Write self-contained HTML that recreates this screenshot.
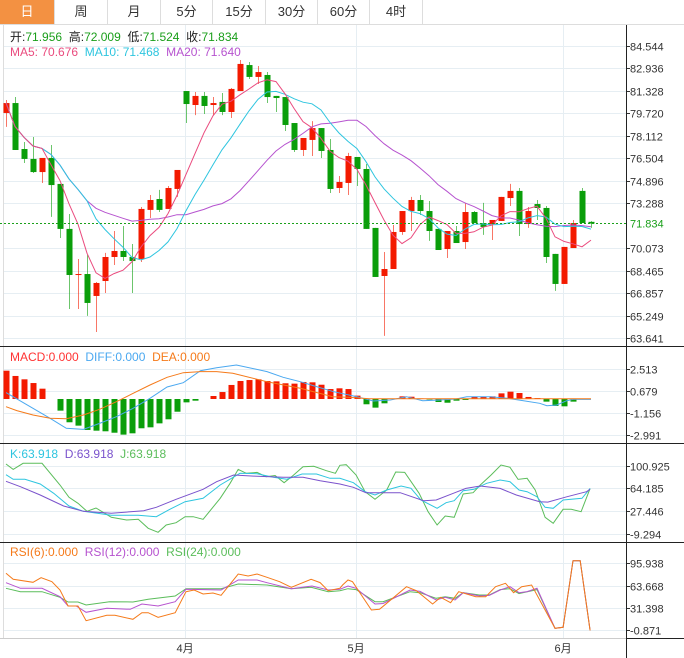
<!DOCTYPE html>
<html><head><meta charset="utf-8">
<style>
html,body{margin:0;padding:0;background:#fff;}
body{width:684px;height:658px;overflow:hidden;position:relative;font-family:"Liberation Sans","Noto Sans CJK SC",sans-serif;}
.tabs{position:absolute;left:0;top:0;width:684px;height:24px;border-bottom:1px solid #ddd;}
.tab{position:absolute;top:0;height:24px;line-height:24px;text-align:center;font-size:13px;color:#333;border-right:1px solid #ddd;box-sizing:border-box;}
.tab.on{background:#f39142;color:#fff;}
svg{position:absolute;left:0;top:0;}
</style></head><body>
<div class="tabs">
<div class="tab on" style="left:0;width:55px">日</div>
<div class="tab" style="left:55px;width:53px">周</div>
<div class="tab" style="left:108px;width:53px">月</div>
<div class="tab" style="left:161px;width:52px">5分</div>
<div class="tab" style="left:213px;width:53px">15分</div>
<div class="tab" style="left:266px;width:52px">30分</div>
<div class="tab" style="left:318px;width:52px">60分</div>
<div class="tab" style="left:370px;width:53px">4时</div>
</div>
<svg id="chart" width="684" height="658"></svg>
<script>
const opens=[79.75,80.46,77.17,76.46,75.52,76.53,74.67,71.45,68.15,68.22,66.65,67.72,69.44,69.87,69.44,69.30,72.81,73.59,72.88,74.31,81.32,80.32,80.97,80.32,80.54,79.82,81.32,83.18,82.33,82.47,80.97,80.89,79.03,77.10,77.82,78.67,77.10,74.38,74.74,76.60,75.74,71.52,68.08,68.58,71.23,72.73,73.52,72.73,71.45,70.01,71.30,70.51,72.66,71.87,71.80,72.02,73.66,74.17,71.80,73.23,72.95,69.66,67.51,70.08,74.17,71.956];
const closes=[80.46,77.10,76.46,75.52,76.53,74.59,71.45,68.15,68.22,66.15,67.58,69.44,69.87,69.44,69.15,72.88,73.52,72.81,74.38,75.67,80.39,80.97,80.25,80.46,79.82,81.47,83.26,82.33,82.68,80.89,80.82,78.89,77.10,77.96,78.67,77.03,74.31,74.81,76.67,75.74,71.45,68.01,68.58,71.23,72.73,73.52,72.73,71.30,69.94,71.30,70.44,72.66,71.87,71.59,72.09,73.74,74.17,71.80,72.73,72.95,69.44,67.51,70.16,71.87,71.87,71.834];
const highs=[80.68,80.89,77.67,78.03,76.53,77.46,74.67,72.52,69.30,69.58,67.65,69.73,71.30,71.66,70.37,73.02,73.88,74.24,74.52,75.67,81.32,81.25,81.25,80.89,81.18,81.54,83.54,83.40,83.11,82.68,80.97,80.89,79.03,77.96,79.17,78.67,77.89,75.24,76.89,76.60,76.10,71.52,69.80,71.73,72.73,73.74,73.88,73.45,71.45,71.30,71.66,73.31,72.73,73.31,72.09,73.74,74.67,74.38,73.02,73.52,73.09,69.66,70.16,72.09,74.38,72.009];
const lows=[78.75,77.10,76.17,75.45,74.74,72.31,70.80,65.72,65.72,65.22,64.07,66.86,68.87,69.15,66.86,69.08,72.23,72.66,72.88,73.74,79.03,79.60,79.68,79.60,79.60,79.39,81.32,82.18,81.82,80.46,79.82,78.46,76.96,76.67,76.67,76.53,74.02,74.02,73.88,74.52,71.45,68.01,63.79,68.58,71.02,71.30,72.45,70.59,69.94,69.37,70.44,70.01,71.87,71.02,70.66,72.02,73.09,70.94,71.52,72.09,69.01,67.01,67.51,70.08,71.87,71.524];
const priceTicks=["84.544","82.936","81.328","79.720","78.112","76.504","74.896","73.288","71.680","70.073","68.465","66.857","65.249","63.641"];
const macdBars=[2.36,1.92,1.64,1.33,0.86,0,-0.97,-1.94,-2.22,-2.58,-2.64,-2.69,-2.81,-2.97,-2.86,-2.44,-2.36,-2.03,-1.69,-1.06,-0.28,-0.14,0,0.25,0.58,1.17,1.5,1.58,1.64,1.5,1.47,1.31,1.28,1.42,1.39,1.19,0.83,0.89,0.83,0.28,-0.44,-0.72,-0.36,0.02,0.22,0.19,0.05,-0.05,-0.25,-0.31,-0.14,-0.08,0.19,0.17,0.22,0.47,0.61,0.5,0.17,0.08,-0.22,-0.58,-0.61,-0.22,0.01,0];
const diffIdx=[0,4.9,6.7,8.6,10.4,12.3,14.1,16,17.9,19.7,21.6,23.4,25.6,29,30.8,32.7,34.5,36.4,39,40.8,42.7,44.5,46.3,48.2,50,51.2,53.8,55.7,57.5,59.3,60.1,61.2,62.3,63,65];
const diffVal=[0.53,-1.61,-2.44,-2.53,-2.03,-1.47,-0.78,0.06,1.0,1.36,2.36,2.61,2.83,2.28,1.81,1.44,1.03,0.61,0.19,-0.17,-0.08,0.19,-0.14,-0.08,0,0.19,0.19,0.06,-0.14,-0.36,-0.56,-0.5,-0.14,-0.03,-0.03];
const deaIdx=[0,1.2,3,4.9,6.7,8.6,10.4,12.3,14.1,16,17.9,19.7,21.6,23.4,25.2,29,32.7,36.3,38,40.4,65];
const deaVal=[-0.64,-0.97,-1.33,-1.61,-1.64,-1.33,-0.86,-0.22,0.47,1.17,1.81,2.19,2.28,2.28,2.14,1.44,0.89,0.19,0.14,0.02,0.02];
const macdTicks=["2.513","0.679","-1.156","-2.991"];
const jIdx=[0,0.8,1.9,4,6,7,8,9,10,11.7,13.4,14.7,15.8,16.9,17.8,18.9,19.9,20.8,21.9,23.8,24.9,25.8,26.7,27.9,28.9,29.9,30.9,31.9,33,34.2,35.6,36.6,37.1,37.8,38.9,39.9,41,42.3,43.3,44.3,45.9,46.9,47.9,48.8,49.8,50.8,51.9,52.7,53.9,55,56,56.9,57.9,58.8,59.9,60.8,61.9,62.8,63.9,64.9];
const jVal=[103.7,95,104.8,104.8,69.6,49.7,40,27,32.4,17.3,12.9,14,-0.5,-7,4.8,8.5,18.3,18.3,14,48.1,72.4,95,88.6,90,83.1,85,73.4,85,99.3,99.9,92.8,88.6,101.5,102.5,85.8,58.8,46.4,61.5,90.7,90,56.2,26.4,4.8,19.4,17.3,55.1,57.2,69.6,85.8,102,98.3,78.8,80.5,61.5,17.3,7.6,30.3,30.3,26.4,64.2];
const kIdx=[0,0.8,2.1,3.8,5.3,7,8.6,11.7,14.7,16.7,18.2,19.9,21.9,23.8,26,27.9,29.7,31.2,32.9,34.5,36,37.1,38.6,39.9,41,42.3,43.9,45,46.1,47.9,48.9,49.8,50.8,52,53.4,54.9,56,57,57.9,59,59.9,60.8,61.9,64,64.9];
const kVal=[86.3,78.9,78.9,71.3,56.2,35.6,27,20.5,20.5,18.3,30.3,42.6,48.1,69.6,88.6,88,82.1,79,87.5,87.5,80.5,80.5,73.4,58.8,53.4,61.5,68,64.3,45.3,31.9,41,44.2,60.4,62.7,72.4,77.7,75,61.5,58.8,50.6,33.5,31.9,45.3,48.1,64.2];
const dIdx=[0,1.6,3.8,6.4,8.6,11.7,15.3,16.7,18.9,21.9,23.4,25.3,27.5,30.8,33,34.9,37.1,38.6,40,41.9,43.8,46.4,47.8,49.7,51.1,52.7,54.9,56.7,59.3,60.2,62.3,64.5,64.9];
const dVal=[75.6,66.9,53.4,35.6,27,23.8,28,33.5,46.4,62.7,75,85.8,84,82.1,82.1,76.6,71.3,65.9,57.2,57.2,57.2,44.2,45.3,56.2,64.2,68,64.2,53.4,42.6,42,50.6,58.8,62.7];
const kdjTicks=["100.925","64.185","27.446","-9.294"];
const r6Idx=[0,0.8,3,3.9,5.1,6,6.9,8,8.9,11.2,12.1,14.1,15.1,15.8,16.9,18.8,20,20.9,21.9,23,23.9,25.8,26.9,27.9,29,30.4,31.7,33.9,34.9,35.8,37.1,37.4,38,38.5,40.6,41.5,44.5,45.6,47.4,48.3,49.4,50.3,52.2,53.3,54.4,55.5,56.4,57.3,58.4,61,61.9,63,63.8,64.9];
const r6Val=[81.5,72.8,68.5,75.1,69.4,57.4,34.2,34.2,13,20.8,20.8,15,24.6,24.6,17.9,24.6,54.9,57.4,51.6,53,49.7,80.5,77.6,80.5,75.7,69.4,61.3,72.8,68,56.3,60,64.6,71.8,69.4,28.4,29.4,62.1,56.3,37.1,46.8,39,54.9,47.7,47.7,62.1,67,53.5,62.1,64.6,2,3.4,99.7,99.7,-1];
const r12Idx=[0,1.6,4,6,6.9,7.8,8.9,11.2,13.8,15.1,16.9,18.8,20,23.9,25.8,27.9,29,31.7,34,35.8,37.1,38,38.9,41,41.9,44.9,46,47.8,48.8,49.9,50.8,52.6,53.7,54.9,56,57,57.9,59,61,61.9,63,63.8,64.9];
const r12Val=[67.9,59.8,59.8,47.7,34.2,34.2,25.1,30.9,29.4,37.1,34.2,40.4,58.4,57.4,71.8,71.8,67.9,59.3,63.1,57.4,58.4,63.1,59.8,37.1,37.9,57.4,55.3,42.9,46.8,42.9,53.5,48.7,49.6,57.4,62.1,53.5,55,59.8,2,3.4,99.7,99.7,-1];
const r24Idx=[0,1.6,4,6,6.9,8,8.9,11.5,14.1,15.8,18.8,20,23.9,25.8,29,31.7,33.9,35.8,37.1,38,38.9,41,41.9,44.9,46,47.8,48.8,49.9,50.8,52.6,53.7,54.9,56,57,59,61,61.9,63,63.8,64.9];
const r24Val=[59.8,54.9,54.9,46.8,40,40,35.7,40.4,40,43.9,48.7,59.3,59.3,66,64.6,59.3,61.3,54.9,56.3,59.3,57.9,40.4,40.4,54.9,53.5,45.3,47.7,45.3,53.5,50.2,50.2,57.9,59.3,52.2,57.9,2,3.4,99.7,99.7,-1];
const rsiTicks=["95.938","63.668","31.398","-0.871"];
const months=["4月","5月","6月"];
const monthIdx=[19.9,38.9,61.9];

const NS="http://www.w3.org/2000/svg";
const svg=document.getElementById('chart');
function mk(tag,attrs,parent){const e=document.createElementNS(NS,tag);for(const k in attrs)e.setAttribute(k,attrs[k]);(parent||svg).appendChild(e);return e;}
const xs=i=>6+9*i;
const py=p=>46+(84.544-p)*13.969;
const my=v=>399-v*12;
const ky=v=>465.7+(100.925-v)*0.617;
const ry=v=>563.3+(95.938-v)*0.692;
const RED="#f31a00",GREEN="#0a9e0a",AX=626;

// grids & axes
const g=mk('g',{});


function gridAndTicks(ticks,scale,name){
  ticks.forEach(t=>{const y=Math.round(scale(parseFloat(t)))+0.5;
    mk('line',{x1:3,x2:AX,y1:y,y2:y,stroke:'#e6eef3','stroke-width':1},g);
    mk('line',{x1:AX,x2:AX+4,y1:y,y2:y,stroke:'#333','stroke-width':1},g);
    const tx=mk('text',{x:AX+4,y:y+4,'font-size':11,fill:'#333'});
    tx.textContent=t;
    
    
  });
}
monthIdx.forEach(mi=>{const x=Math.round(xs(mi))+0.5;mk('line',{x1:x,x2:x,y1:25,y2:638,stroke:'#e6eef3'},g);});
gridAndTicks(priceTicks.filter(t=>t!=="71.680"),py,'price');
gridAndTicks(macdTicks,my,'macd');
gridAndTicks(kdjTicks,ky,'kdj');
gridAndTicks(rsiTicks,ry,'rsi');
mk('line',{x1:3.5,x2:3.5,y1:25,y2:638,stroke:'#ddd'},g);
[346.5,443.5,542.5].forEach(y=>mk('line',{x1:0,x2:684,y1:y,y2:y,stroke:'#222'},g));
mk('line',{x1:0,x2:AX,y1:638.5,y2:638.5,stroke:'#ccc'},g);
mk('line',{x1:AX,x2:684,y1:638.5,y2:638.5,stroke:'#222'},g);
mk('line',{x1:AX+0.5,x2:AX+0.5,y1:25,y2:658,stroke:'#222'},g);
months.forEach((m,k)=>{const t=mk('text',{x:xs(monthIdx[k]),y:652,'font-size':11,fill:'#333','text-anchor':'middle'});t.textContent=m;
  
  });

// candles
opens.forEach((o,i)=>{const c=closes[i];const col=c>o?RED:GREEN;const x=xs(i);
  const grp=mk('g',{});
  
  
  mk('line',{x1:x+0.5,x2:x+0.5,y1:py(highs[i]),y2:py(lows[i]),stroke:col,'stroke-opacity':0.6},grp);
  const top=py(Math.max(o,c)),bot=py(Math.min(o,c));
  mk('rect',{x:x-2.5,y:top,width:6,height:Math.max(1,bot-top),fill:col},grp);
});
// MAs
function ma(n){return closes.map((_,i)=>{const s=Math.max(0,i-n+1);let t=0;for(let k=s;k<=i;k++)t+=closes[k];return t/(i-s+1);});}
function poly(vals,idx,scale,color,name){
  const pts=vals.map((v,k)=>(idx?xs(idx[k]):xs(k)).toFixed(1)+','+scale(v).toFixed(1)).join(' ');
  const p=mk('polyline',{points:pts,fill:'none',stroke:color,'stroke-width':1});
  
  
}
poly(ma(20),null,py,'#b653cf','ma20-line');
poly(ma(10),null,py,'#2ec5df','ma10-line');
poly(ma(5),null,py,'#ea4b7e','ma5-line');
// current price
const last=closes[closes.length-1];
mk('line',{x1:0,x2:AX,y1:py(last),y2:py(last),stroke:'#1aa01a','stroke-dasharray':'2,2'});
const lp=mk('text',{x:AX+4,y:py(last)+4,'font-size':11,fill:'#1aa01a'});lp.textContent=last.toFixed(3);


// MACD
macdBars.forEach((v,i)=>{if(Math.abs(v)<0.005)return;const r=mk('rect',{x:xs(i)-2.5,y:Math.min(my(v),my(0)),width:6,height:Math.abs(my(v)-my(0)),fill:v>0?RED:GREEN});
  
  });
poly(diffVal,diffIdx,my,'#4aa8f0','diff-line');
poly(deaVal,deaIdx,my,'#f57a1a','dea-line');
// KDJ
poly(jVal,jIdx,ky,'#5bbd5b','j-line');
poly(kVal,kIdx,ky,'#2ec5df','k-line');
poly(dVal,dIdx,ky,'#7a52cc','d-line');
// RSI
poly(r24Val,r24Idx,ry,'#5bbd5b','rsi24-line');
poly(r12Val,r12Idx,ry,'#b653cf','rsi12-line');
poly(r6Val,r6Idx,ry,'#f57a1a','rsi6-line');

// legends
function legend(y,items,name){const t=mk('text',{x:10,y:y,'font-size':12});
  
  
  items.forEach(([s,c])=>{const ts=mk('tspan',{fill:c},t);ts.textContent=s;});}
legend(41,[["开:","#222"],["71.956  ","#1a9e1a"],["高:","#222"],["72.009  ","#1a9e1a"],["低:","#222"],["71.524  ","#1a9e1a"],["收:","#222"],["71.834","#1a9e1a"]],'ohlc-legend');
legend(56,[["MA5: 70.676  ","#ea4b7e"],["MA10: 71.468  ","#2ec5df"],["MA20: 71.640","#b653cf"]],'ma-legend');
legend(361,[["MACD:0.000  ","#f33"],["DIFF:0.000  ","#4aa8f0"],["DEA:0.000","#f57a1a"]],'macd-legend');
legend(458,[["K:63.918  ","#2ec5df"],["D:63.918  ","#7a52cc"],["J:63.918","#5bbd5b"]],'kdj-legend');
legend(556,[["RSI(6):0.000  ","#f57a1a"],["RSI(12):0.000  ","#b653cf"],["RSI(24):0.000","#5bbd5b"]],'rsi-legend');
svg.querySelectorAll('tspan').forEach(s=>s.setAttribute('xml:space','preserve'));
svg.querySelectorAll('text').forEach(s=>s.setAttribute('style','white-space:pre'));
</script>
</body></html>
